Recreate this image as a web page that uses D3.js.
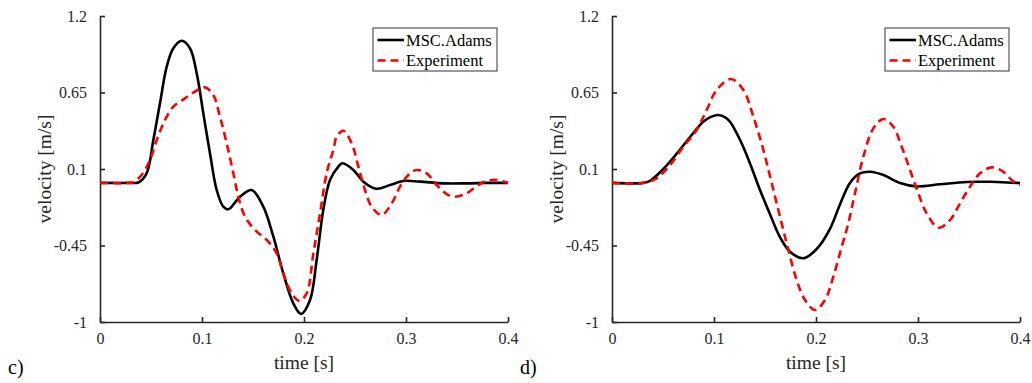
<!DOCTYPE html>
<html>
<head>
<meta charset="utf-8">
<script src="https://cdn.jsdelivr.net/npm/d3@7"></script>
<style>
  body { margin: 0; background: #fff; }
  .axis path, .axis line { stroke: #262626; stroke-width: 1.6; }
  .axis text { fill: #262626; }
</style>
</head>
<body>
<svg id="chart" width="1032" height="383"></svg>
<script>
// ------------------------------
// DONNEES
// ------------------------------
const timeTicks = [0, 0.1, 0.2, 0.3, 0.4];
const velocityTicks = [-1, -0.45, 0.1, 0.65, 1.2];
const seriesNames = ["MSC.Adams", "Experiment"];

// panel c)
const cAdamsTime = [0, 0.030, 0.0376, 0.0457, 0.0523, 0.0588, 0.0654, 0.0719, 0.0801, 0.0882, 0.0948, 0.1013, 0.1078, 0.1144, 0.1209, 0.1258, 0.1373, 0.1487, 0.1601, 0.170, 0.1797, 0.1895, 0.1971, 0.2059, 0.2124, 0.2189, 0.2255, 0.2337, 0.2376, 0.2484, 0.2582, 0.2712, 0.2843, 0.2974, 0.3137, 0.3366, 0.3595, 0.379, 0.4];
const cAdamsVel  = [0, 0, 0.003, 0.069, 0.308, 0.572, 0.836, 0.968, 1.022, 0.968, 0.788, 0.50, 0.213, -0.051, -0.171, -0.19, -0.099, -0.051, -0.171, -0.387, -0.65, -0.866, -0.942, -0.842, -0.554, -0.195, 0.021, 0.117, 0.141, 0.093, 0.009, -0.042, -0.015, 0.014, 0.009, -0.003, -0.003, 0.0, 0.0];
const cExpTime = [0, 0.028, 0.0327, 0.0408, 0.049, 0.0556, 0.0637, 0.0719, 0.0833, 0.0931, 0.1029, 0.1111, 0.1176, 0.1242, 0.1307, 0.1356, 0.1422, 0.152, 0.1634, 0.1732, 0.1797, 0.1879, 0.1954, 0.2026, 0.2092, 0.2157, 0.2225, 0.2288, 0.2320, 0.2386, 0.2467, 0.2533, 0.2598, 0.2663, 0.2761, 0.286, 0.2941, 0.3023, 0.3105, 0.3203, 0.3301, 0.3399, 0.348, 0.3595, 0.3693, 0.379, 0.3889, 0.4];
const cExpVel  = [0, 0, 0.005, 0.057, 0.165, 0.308, 0.452, 0.548, 0.608, 0.656, 0.687, 0.632, 0.476, 0.285, 0.069, -0.099, -0.243, -0.339, -0.41, -0.506, -0.65, -0.794, -0.849, -0.794, -0.506, -0.219, 0.08, 0.237, 0.332, 0.375, 0.285, 0.117, -0.051, -0.171, -0.231, -0.147, -0.027, 0.057, 0.093, 0.069, -0.015, -0.08, -0.099, -0.075, -0.022, 0.014, 0.021, 0.0];

// panel d)
const dAdamsTime = [0, 0.0307, 0.0373, 0.0503, 0.0634, 0.0765, 0.0895, 0.097, 0.1042, 0.1110, 0.1157, 0.1255, 0.1353, 0.1451, 0.1549, 0.1647, 0.1745, 0.1876, 0.2007, 0.2137, 0.2235, 0.2333, 0.2431, 0.2529, 0.266, 0.2824, 0.2987, 0.3216, 0.3477, 0.3706, 0.3967, 0.4];
const dAdamsVel  = [0, 0, 0.015, 0.10, 0.21, 0.33, 0.44, 0.475, 0.488, 0.472, 0.44, 0.31, 0.14, -0.051, -0.225, -0.39, -0.495, -0.542, -0.475, -0.33, -0.155, 0.0, 0.068, 0.08, 0.057, 0.0, -0.025, -0.01, 0.007, 0.008, 0.0, 0.0];
const dExpTime = [0, 0.030, 0.0438, 0.0569, 0.0699, 0.083, 0.0928, 0.1026, 0.1167, 0.1288, 0.1386, 0.1484, 0.1565, 0.1647, 0.1729, 0.181, 0.1892, 0.199, 0.2088, 0.217, 0.2252, 0.2310, 0.2382, 0.2464, 0.2562, 0.266, 0.2758, 0.284, 0.2922, 0.3003, 0.3085, 0.32, 0.3314, 0.3412, 0.351, 0.3608, 0.3722, 0.3837, 0.3935, 0.4];
const dExpVel  = [0, 0, 0.033, 0.129, 0.26, 0.38, 0.524, 0.668, 0.747, 0.668, 0.476, 0.237, 0.0, -0.243, -0.482, -0.698, -0.842, -0.914, -0.842, -0.674, -0.459, -0.31, -0.075, 0.188, 0.392, 0.459, 0.404, 0.26, 0.093, -0.075, -0.219, -0.322, -0.267, -0.147, -0.027, 0.069, 0.112, 0.08, 0.009, -0.015];

// ------------------------------
// POLICE : premiere police serif disponible
// ------------------------------
function pickSerif() {
  const ctx = document.createElement("canvas").getContext("2d");
  const sample = "MSC.Adams Experiment velocity 0.65";
  const widthOf = f => { ctx.font = "40px " + f; return ctx.measureText(sample).width; };
  const candidates = ["Liberation Serif", "Times New Roman", "Tinos", "DejaVu Serif", "Noto Serif", "FreeSerif"];
  for (const c of candidates) {
    const w = widthOf(`'${c}', monospace`);
    if (Math.abs(w - widthOf("monospace")) > 1) return `'${c}', serif`;
  }
  return "serif";
}
const serif = pickSerif();

// ------------------------------
// DESSIN D'UN PANNEAU
// ------------------------------
const svg = d3.select("#chart");
const plotW = 408, plotH = 306, plotTop = 16;

function zip(ts, vs) { return ts.map((t, i) => [t, vs[i]]); }

function drawPanel(left, tag, adams, exp) {
  const x = d3.scaleLinear().domain([0, 0.4]).range([left, left + plotW]);
  const y = d3.scaleLinear().domain([-1, 1.2]).range([plotTop + plotH, plotTop]);
  const g = svg.append("g");

  g.append("g").attr("class", "axis")
    .attr("transform", `translate(0,${plotTop + plotH})`)
    .call(d3.axisBottom(x).tickValues(timeTicks).tickFormat(d => String(d))
      .tickSizeInner(-5).tickSizeOuter(0).tickPadding(11))
    .attr("font-family", serif).attr("font-size", 16);
  g.append("g").attr("class", "axis")
    .attr("transform", `translate(${left},0)`)
    .call(d3.axisLeft(y).tickValues(velocityTicks).tickFormat(d => String(d))
      .tickSizeInner(-5).tickSizeOuter(0).tickPadding(13))
    .attr("font-family", serif).attr("font-size", 16);

  const line = d3.line().x(d => x(d[0])).y(d => y(d[1])).curve(d3.curveCatmullRom.alpha(0.5));

  g.append("path").datum(adams).attr("d", line)
    .attr("fill", "none").attr("stroke", "#000").attr("stroke-width", 2.6);
  g.append("path").datum(exp).attr("d", line)
    .attr("fill", "none").attr("stroke", "#ff0000").attr("stroke-width", 2.6)
    .attr("stroke-dasharray", "8,5");

  // titres d'axes
  g.append("text").attr("x", left + plotW / 2).attr("y", 369)
    .attr("text-anchor", "middle").attr("font-size", 19.5).attr("font-family", serif)
    .attr("fill", "#262626").text("time [s]");
  g.append("text").attr("transform", `translate(${left - 49},${plotTop + plotH / 2}) rotate(-90)`)
    .attr("text-anchor", "middle").attr("font-size", 19.5).attr("font-family", serif)
    .attr("fill", "#262626").text("velocity [m/s]");

  // etiquette du panneau
  g.append("text").attr("x", left - 92).attr("y", 374).attr("font-family", serif)
    .attr("font-size", 20).attr("fill", "#000").text(tag);

  // legende
  const lx = left + plotW - 11 - 124, ly = 28;
  const lg = g.append("g").attr("transform", `translate(${lx},${ly})`);
  lg.append("rect").attr("width", 124).attr("height", 43)
    .attr("fill", "#fff").attr("stroke", "#333").attr("stroke-width", 1);
  seriesNames.forEach((name, i) => {
    const yy = 12 + i * 20.5;
    lg.append("line").attr("x1", 4.5).attr("x2", 31).attr("y1", yy).attr("y2", yy)
      .attr("stroke", i === 0 ? "#000" : "#ff0000").attr("stroke-width", 2.6)
      .attr("stroke-dasharray", i === 0 ? null : "8,5");
    lg.append("text").attr("x", 33).attr("y", yy + 5.5).attr("font-family", serif)
      .attr("font-size", 16.5).attr("fill", "#000").text(name);
  });
}

drawPanel(100, "c)", zip(cAdamsTime, cAdamsVel), zip(cExpTime, cExpVel));
drawPanel(612, "d)", zip(dAdamsTime, dAdamsVel), zip(dExpTime, dExpVel));
</script>
</body>
</html>
